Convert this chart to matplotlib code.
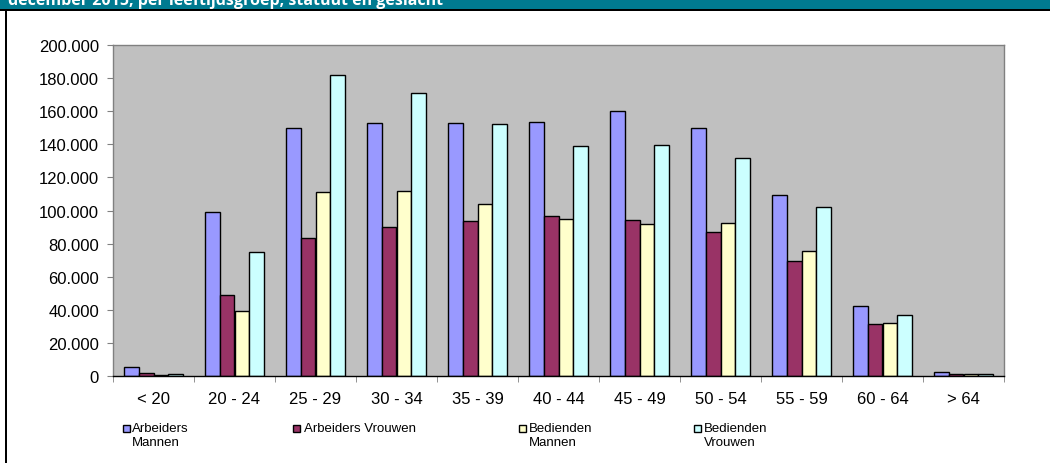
import matplotlib
matplotlib.use("Agg")
import matplotlib.pyplot as plt
from matplotlib.patches import Rectangle
from matplotlib.ticker import FuncFormatter, FixedLocator
import numpy as np

plt.rcParams['font.family'] = ['Liberation Sans', 'DejaVu Sans']

categories = ["< 20", "20 - 24", "25 - 29", "30 - 34", "35 - 39", "40 - 44",
              "45 - 49", "50 - 54", "55 - 59", "60 - 64", "> 64"]
series_names = ["Arbeiders\nMannen", "Arbeiders Vrouwen", "Bedienden\nMannen", "Bedienden\nVrouwen"]
arbeiders_mannen = [5400, 99300, 149700, 153100, 152700, 153300, 160100, 149700, 109400, 42300, 2200]
arbeiders_vrouwen = [1600, 49200, 83600, 90000, 93900, 96700, 94300, 87200, 69500, 31400, 1200]
bedienden_mannen = [800, 39300, 111200, 111800, 103700, 94700, 91700, 92700, 75300, 32000, 1500]
bedienden_vrouwen = [1200, 74900, 182100, 171000, 152300, 139000, 139400, 132000, 101900, 36900, 1500]
colors = ["#9999FF", "#993366", "#FFFFCC", "#CCFFFF"]
header = "december 2015, per leeftijdsgroep, statuut en geslacht"

W, H = 1050, 464
fig = plt.figure(figsize=(W / 100, H / 100), dpi=100)
fig.patch.set_facecolor("white")

# header band
fig.patches.append(Rectangle((0, 1 - 10 / H), 1, 10 / H, transform=fig.transFigure,
                             facecolor="#007A90", edgecolor="none", zorder=0))
fig.patches.append(Rectangle((0, 1 - 12 / H), 1, 2 / H, transform=fig.transFigure,
                             facecolor="black", edgecolor="none", zorder=1))
fig.patches.append(Rectangle((5 / W, 0), 2 / W, 1 - 10 / H, transform=fig.transFigure,
                             facecolor="black", edgecolor="none", zorder=1))
fig.text(8 / W, 1 - 5 / H, header, color="white", fontsize=11.5, fontweight="bold",
         family=["Open Sans", "DejaVu Sans"], va="baseline", ha="left")

ax = fig.add_axes([113 / W, 1 - 377 / H, 891 / W, 331 / H])
ax.set_facecolor("#C0C0C0")
for s in ax.spines.values():
    s.set_color("#808080")
    s.set_linewidth(1.0)
ax.spines["bottom"].set_color("black")

data = [arbeiders_mannen, arbeiders_vrouwen, bedienden_mannen, bedienden_vrouwen]
n = len(categories)
x = np.arange(n)
bw = 1 / 5.5
for i, (vals, c) in enumerate(zip(data, colors)):
    ax.bar(x + (i - 1.5) * bw, vals, width=bw, color=c, edgecolor="black", linewidth=1.0, zorder=2)

ax.set_xlim(-0.5, n - 0.5)
ax.set_ylim(0, 200000)
ax.set_yticks(np.arange(0, 200001, 20000))
ax.yaxis.set_major_formatter(FuncFormatter(lambda v, p: f"{int(v):,}".replace(",", ".")))
ax.set_xticks(x)
ax.set_xticklabels(categories)
ax.xaxis.set_minor_locator(FixedLocator(np.arange(-0.5, n, 1.0)))
ax.tick_params(axis="x", which="major", length=0, pad=11, labelsize=12)
ax.tick_params(axis="x", which="minor", length=4, color="#808080", direction="out")
ax.tick_params(axis="y", which="major", length=4, color="#808080", pad=6, labelsize=12)

# legend
marker_x = [123, 293, 519, 694]
text_x = [132, 304, 529, 704]
for mx, tx, lab, c in zip(marker_x, text_x, series_names, colors):
    fig.patches.append(Rectangle((mx / W, 1 - 433 / H), 7 / W, 7 / H, transform=fig.transFigure,
                                 facecolor=c, edgecolor="black", linewidth=1.0, zorder=3))
    fig.text(tx / W, 1 - 423 / H, lab, fontsize=9.5, va="top", ha="left",
             linespacing=1.25, multialignment="left")

fig.savefig("out.png", dpi=100)
